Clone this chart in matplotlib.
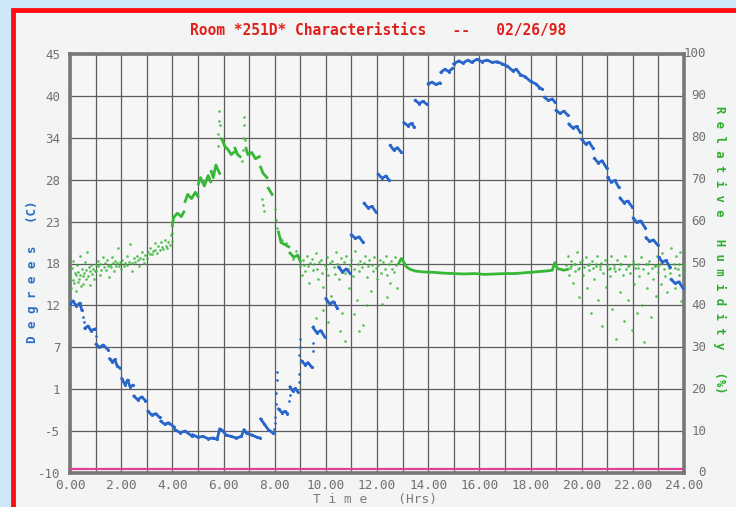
import numpy as np
import matplotlib
matplotlib.use("Agg")
import matplotlib.pyplot as plt
from matplotlib.patches import Rectangle

nan = np.nan

# ---------------- data ----------------
temp_hours = [0.0,0.12,0.25,0.38,0.46, nan,
              0.58,0.7,0.82,0.97, nan,
              1.02,1.15,1.3,1.48, nan,
              1.55,1.65,1.75,1.85,1.95, nan,
              2.02,2.15,2.25,2.35,2.45, nan,
              2.5,2.65,2.8,2.95, nan,
              3.05,3.2,3.35,3.5, nan,
              3.55,3.7,3.85,4.05, nan,
              4.1,4.3,4.5,4.75, nan,
              4.8,5.0,5.2,5.4,5.6,5.75,5.85,5.95,6.1,6.3,6.5,6.7,6.8,6.9,7.1,7.3,7.42, nan,
              7.45,7.6,7.75,7.95, nan,
              8.15,8.3,8.4,8.5, nan,
              8.6,8.7,8.8,8.92, nan,
              9.05,9.2,9.3,9.45, nan,
              9.5,9.65,9.8,9.95, nan,
              10.0,10.15,10.3,10.45, nan,
              10.5,10.65,10.8,10.95, nan,
              11.0,11.15,11.3,11.45, nan,
              11.5,11.65,11.8,11.95, nan,
              12.05,12.2,12.35,12.48, nan,
              12.52,12.65,12.8,12.95, nan,
              13.05,13.2,13.35,13.45, nan,
              13.5,13.65,13.8,13.95, nan,
              14.0,14.15,14.3,14.45, nan,
              14.5,14.65,14.8,14.95, nan,
              15.0,15.2,15.35,15.55,15.7,15.9,16.1,16.3,16.5,16.7,16.9,17.1,17.3,17.45,17.6,17.8,18.0,18.2,18.35,18.45, nan,
              18.55,18.7,18.85,18.95, nan,
              19.0,19.15,19.3,19.45, nan,
              19.5,19.65,19.8,19.95, nan,
              20.0,20.15,20.3,20.45, nan,
              20.5,20.65,20.8,20.98, nan,
              21.02,21.15,21.3,21.45, nan,
              21.5,21.65,21.8,21.98, nan,
              22.02,22.15,22.3,22.48, nan,
              22.52,22.65,22.8,22.98, nan,
              23.02,23.15,23.3,23.45, nan,
              23.5,23.65,23.8,23.95]
temp_deg = [12.2,12.6,11.9,12.3,11.4, nan,
            9.0,9.3,8.7,8.9, nan,
            6.9,6.5,6.8,6.2, nan,
            5.0,4.6,4.9,4.0,3.8, nan,
            2.4,1.6,2.2,1.3,1.5, nan,
            0.1,-0.4,0.0,-0.5, nan,
            -1.9,-2.4,-2.2,-2.7, nan,
            -3.2,-3.6,-3.4,-3.9, nan,
            -4.3,-4.7,-4.5,-5.1, nan,
            -5.0,-5.3,-5.2,-5.5,-5.4,-5.6,-4.2,-4.4,-5.0,-5.2,-5.4,-5.2,-4.3,-4.8,-5.0,-5.3,-5.4, nan,
            -2.9,-3.6,-4.3,-4.8, nan,
            -1.6,-2.1,-1.9,-2.2, nan,
            1.3,0.8,1.1,0.6, nan,
            4.7,4.2,4.5,3.9, nan,
            9.1,8.4,8.7,7.9, nan,
            12.9,12.2,12.5,11.6, nan,
            17.0,16.4,16.8,16.2, nan,
            21.3,20.8,21.0,20.3, nan,
            25.4,24.8,25.0,24.3, nan,
            29.2,28.7,29.0,28.4, nan,
            33.0,32.4,32.7,32.1, nan,
            36.0,35.6,35.9,35.4, nan,
            38.9,38.5,38.8,38.4, nan,
            41.1,41.3,41.0,41.2, nan,
            42.6,43.0,42.7,43.1, nan,
            43.7,44.1,43.8,44.2,43.9,44.3,44.0,44.2,43.9,44.0,43.7,43.4,42.8,43.0,42.3,42.0,41.4,41.1,40.6,40.4, nan,
            39.3,38.9,39.1,38.7, nan,
            37.6,37.2,37.5,37.0, nan,
            35.8,35.3,35.5,34.7, nan,
            33.8,33.2,33.4,32.6, nan,
            31.3,30.7,31.0,30.0, nan,
            28.8,28.2,28.4,27.5, nan,
            26.1,25.5,25.7,24.9, nan,
            23.5,22.9,23.1,22.2, nan,
            20.9,20.4,20.6,19.9, nan,
            18.3,17.7,17.9,17.0, nan,
            15.4,14.9,15.1,14.3]

# sparse temperature readings during fast transitions
temp_sparse_hours = [0.5,0.55,1.0,7.98,8.0,8.02,8.04,8.06,8.08,8.1,8.55,8.58,
                     8.95,8.96,8.97,8.98,9.0,9.48,9.5]
temp_sparse_deg = [10.5,9.8,8.0,-4.2,-3.4,-2.6,-1.0,0.5,2.2,3.3,-0.5,0.3,
                   2.0,3.0,5.5,6.5,7.6,6.0,7.0]

# humidity: continuous runs
hum_line_hours = [4.0,4.05,4.2,4.35,4.45, nan,
                  4.5,4.6,4.75,4.9,5.0, nan,
                  5.02,5.1,5.25,5.4,5.5, nan,
                  5.52,5.6,5.7,5.85, nan,
                  5.95,6.05,6.2,6.3,6.4, nan,
                  6.45,6.55,6.65, nan,
                  6.88,6.95,7.1,7.25,7.4, nan,
                  7.45,7.55,7.7, nan,
                  7.75,7.85,7.9, nan,
                  8.15,8.25,8.4,8.55, nan,
                  8.6,8.75,8.9,9.0, nan,
                  12.85,12.95,13.05,13.15,13.3,13.5,13.8,14.2,14.6,15.0,15.4,15.8,16.2,16.6,17.0,17.4,17.8,18.2,18.6,18.85,18.95,19.05,19.3,19.45]
hum_line_pct = [59.0,61.0,62.0,61.2,62.3, nan,
                64.8,66.5,65.5,67.0,66.0, nan,
                69.0,70.5,68.5,71.0,69.5, nan,
                72.0,70.5,73.5,71.5, nan,
                79.5,78.0,77.0,76.0,76.5, nan,
                77.5,76.0,75.5, nan,
                77.5,76.0,76.5,75.0,75.5, nan,
                73.0,71.5,70.5, nan,
                68.0,67.0,66.5, nan,
                57.5,55.0,54.5,54.0, nan,
                52.5,51.5,52.0,50.5, nan,
                50.0,51.2,50.3,49.2,48.6,48.2,48.0,47.9,47.7,47.6,47.5,47.6,47.4,47.5,47.6,47.6,47.8,48.0,48.2,48.4,50.2,48.8,48.4,48.6]

# humidity: scattered readings
hum_pts_hours = [
    0.01,0.04,0.07,0.11,0.13,0.17,0.19,0.23,0.24,0.27,0.31,0.32,0.35,0.38,0.41,0.44,0.46,0.49,0.52,0.54,
    0.57,0.61,0.62,0.67,0.69,0.74,0.77,0.79,0.84,0.87,0.89,0.94,0.97,1.01,1.03,1.09,1.11,1.17,1.19,1.23,
    1.29,1.31,1.37,1.39,1.45,1.47,1.53,1.55,1.61,1.63,1.69,1.71,1.77,1.79,1.85,1.87,1.93,1.95,2.01,2.04,
    2.11,2.14,2.21,2.24,2.31,2.34,2.41,2.44,2.51,2.54,2.61,2.64,2.71,2.74,2.81,2.84,2.91,2.94,3.01,3.04,
    3.11,3.14,3.21,3.24,3.31,3.34,3.41,3.44,3.51,3.54,3.61,3.64,3.71,3.74,3.81,3.84,3.91,3.94,3.98,4.0,
    5.78,5.8,5.82,5.84,5.86,5.88,6.72,6.75,6.78,6.8,6.82,6.85,7.5,7.55,7.6,8.0,8.05,8.1,
    8.2,8.3,8.45,8.7,8.85,
    9.0,9.05,9.1,9.15,9.2,9.25,9.3,9.35,9.4,9.45,9.5,9.55,9.6,9.65,9.7,9.75,9.8,9.85,9.9,9.95,
    10.0,10.05,10.1,10.15,10.2,10.25,10.3,10.35,10.4,10.45,10.5,10.55,10.6,10.65,10.7,10.75,10.8,10.85,10.9,10.95,
    11.0,11.05,11.1,11.15,11.2,11.25,11.3,11.35,11.4,11.45,11.5,11.55,11.6,11.65,11.7,11.75,11.8,11.85,11.9,11.95,
    12.0,12.05,12.1,12.15,12.2,12.25,12.3,12.35,12.4,12.45,12.5,12.55,12.6,12.65,12.7,12.75,12.8,
    9.48,9.62,9.9,10.1,10.55,10.75,11.1,11.3,11.6,12.4,
    19.4,19.45,19.5,19.55,19.6,19.65,19.7,19.75,19.8,19.85,19.9,19.95,20.0,20.05,20.1,20.15,20.2,20.25,20.3,20.35,
    20.4,20.45,20.5,20.55,20.6,20.65,20.7,20.75,20.8,20.85,20.9,20.95,21.0,21.05,21.1,21.15,21.2,21.25,21.3,21.35,
    21.4,21.45,21.5,21.55,21.6,21.65,21.7,21.75,21.8,21.85,21.9,21.95,22.0,22.05,22.1,22.15,22.2,22.25,22.3,22.35,
    22.4,22.45,22.5,22.55,22.6,22.65,22.7,22.75,22.8,22.85,22.9,22.95,23.0,23.05,23.1,23.15,23.2,23.25,23.3,23.35,
    23.4,23.45,23.5,23.55,23.6,23.65,23.7,23.75,23.8,23.85,23.9,23.95,24.0,
    19.6,19.9,20.3,20.7,21.1,21.5,21.8,22.2,22.6,23.0,23.4,23.8,19.75,20.55,21.25,22.05,22.85,23.65]
hum_pts_pct = [
    46.8,44.2,48.9,46.1,50.6,45.3,47.7,43.4,47.2,49.6,45.5,47.9,46.4,51.7,47.3,44.6,48.8,46.9,45.2,47.8,
    50.3,46.3,48.4,52.8,47.1,49.2,44.9,48.1,49.7,47.4,48.6,46.2,48.3,49.8,48.2,50.7,49.3,47.2,49.9,48.5,
    51.6,49.1,50.2,48.4,50.8,49.4,46.8,49.7,49.2,51.5,50.1,48.3,50.6,49.3,50.2,53.6,49.4,50.3,48.6,50.9,
    49.5,50.2,51.8,49.6,50.4,54.7,50.1,48.3,51.2,50.3,51.9,50.8,49.4,51.3,52.7,51.1,50.2,52.1,51.4,52.8,
    52.2,53.7,52.3,53.1,54.8,53.2,52.4,54.1,53.3,55.2,54.0,53.4,55.6,54.2,53.6,55.1,54.3,56.7,55.4,57.2,
    78,81,84,86.5,83,80,74.5,77,80,83,85,79.5,65.5,64,62.5,63,60.5,58.5,
    56,55.5,54.8,51,53,
    49.3,47.2,50.8,49.6,48.1,51.7,49.4,45.3,50.2,51.1,48.4,49.8,52.6,48.7,46.2,50.3,50.9,47.8,44.4,49.6,
    48.8,51.6,47.3,50.1,42.3,50.7,49.2,47.6,52.8,49.9,46.4,48.9,51.3,38.2,50.4,47.7,51.8,48.6,44.1,49.7,
    50.8,47.1,48.7,52.9,41.2,49.8,48.2,50.6,49.1,35.3,50.2,51.7,46.8,49.3,50.9,43.4,49.7,48.3,51.6,48.9,
    46.3,49.6,50.8,47.7,40.4,50.3,48.6,51.9,47.2,49.8,45.4,50.7,48.8,47.9,51.6,49.6,44.2,
    35,37,39,36,34,31.6,38,34,40,42,
    49.7,51.8,47.2,48.9,50.6,45.3,49.8,48.2,52.7,48.8,41.9,50.3,50.8,47.3,49.1,51.6,44.2,49.7,48.4,38.3,
    50.7,48.9,46.2,49.8,51.7,41.3,48.8,50.2,35.1,47.8,50.9,44.3,49.6,48.7,47.1,51.8,39.2,49.6,48.3,32.1,
    50.8,48.6,43.2,49.9,47.3,36.2,51.7,48.8,41.4,49.6,47.8,34.1,50.7,45.2,48.9,38.3,49.8,46.9,51.6,40.2,
    48.7,31.3,49.9,44.1,47.8,50.7,37.2,48.9,46.3,49.6,42.2,51.7,47.9,49.8,45.1,52.6,48.8,46.9,50.6,43.2,
    49.7,47.8,53.6,46.1,49.9,44.2,51.8,48.7,47.2,52.7,41.1,49.6,48.3,
    49.5,49,50,49.5,49,50,49.5,49,50,49.5,49,50,50,49.5,49,50,49.5,49]

# reference line near the bottom (humidity axis units)
ref_hours = [0, 24]
ref_pct = [1.0, 1.0]

left_ticks = [-10, -4.5, 1, 6.5, 12, 17.5, 23, 28.5, 34, 39.5, 45]
left_labels = ['-10', '-5', '1', '7', '12', '18', '23', '28', '34', '40', '45']
right_ticks = list(range(0, 101, 10))
hour_ticks = list(range(0, 25))
hour_labels = [f"{h}.00" if h % 2 == 0 else "" for h in hour_ticks]

# ---------------- drawing ----------------
W, H = 736, 507
fig = plt.figure(figsize=(W / 100, H / 100), dpi=100)
fig.patch.set_facecolor('#cfe8f8')
frame = Rectangle((13 / W, -0.2), 1.2, 1.2 - 10 / H, transform=fig.transFigure,
                  facecolor='#f3f5f4', edgecolor='#ff1010', lw=3.5, zorder=-10)
fig.patches.append(frame)

mono = 'DejaVu Sans Mono'
tick_col = '#707070'
blue = '#2866cc'
green = '#36b836'
bg = '#f5f6f5'

# humidity axes (primary; carries x axis and grid)
hum = fig.add_axes([70 / W, 1 - 473 / H, 614 / W, (473 - 54) / H])
hum.set_facecolor(bg)
hum.set_xlim(0, 24)
hum.set_ylim(0, 100)
hum.set_xticks(hour_ticks)
hum.set_xticklabels(hour_labels, fontfamily=mono, fontsize=9.2, color=tick_col)
hum.tick_params(axis='x', length=0, pad=4.5)
hum.grid(True, axis='both', color='#5c5c5c', lw=0.9)
hum.set_axisbelow(True)
for s in hum.spines.values():
    s.set_color('#777777')
    s.set_linewidth(2.6)

# temperature axes (twin, drawn on top)
tmp = hum.twinx()
hum.set_zorder(1)
tmp.set_zorder(2)
tmp.patch.set_visible(False)
hum.yaxis.tick_right()
hum.set_yticks(right_ticks)
hum.set_yticklabels([str(v) for v in right_ticks], fontfamily=mono, fontsize=9,
                    color=tick_col, ha='right', va='center')
hum.tick_params(axis='y', length=0, pad=16)
tmp.yaxis.tick_left()
tmp.set_ylim(-10, 45)
tmp.set_yticks(left_ticks)
tmp.set_yticklabels(left_labels, fontfamily=mono, fontsize=9, color=tick_col)
tmp.tick_params(axis='y', length=0, pad=7)
for s in tmp.spines.values():
    s.set_visible(False)

# humidity
hum.plot(hum_pts_hours, hum_pts_pct, 'o', ms=1.9, color=green, mec='none', alpha=0.85, zorder=3)
hum.plot(hum_line_hours, hum_line_pct, '-', lw=2.0, color=green, zorder=3)
hum.plot(ref_hours, ref_pct, '-', lw=1.6, color='#e0409a', zorder=4)

# temperature
tmp.plot(temp_hours, temp_deg, '-', lw=2.0, color=blue, zorder=5)
tmp.plot(temp_hours, temp_deg, 'o', ms=2.2, color=blue, mec='none', zorder=5)
tmp.plot(temp_sparse_hours, temp_sparse_deg, 'o', ms=1.9, color=blue, mec='none', zorder=5)

fig.text(378 / W, 1 - 31 / H, "Room *251D* Characteristics   --   02/26/98",
         ha='center', va='center', fontfamily=mono, fontweight='bold', fontsize=10.5, color='#e0201c')
fig.text(33 / W, 1 - 272 / H, "D e g r e e s   (C)", rotation=90, ha='center', va='center',
         fontfamily=mono, fontweight='bold', fontsize=9, color='#2a6cc0')
fig.text(720 / W, 1 - 250 / H, "R e l a t i v e   H u m i d i t y   (%)", rotation=270,
         ha='center', va='center', fontfamily=mono, fontweight='bold', fontsize=8.8, color='#2fae2f')
fig.text(375 / W, 1 - 499 / H, "T i m e    (Hrs)", ha='center', va='center',
         fontfamily=mono, fontsize=9.3, color='#7a7a7a')

fig.savefig('out.png', dpi=100, facecolor=fig.get_facecolor())
